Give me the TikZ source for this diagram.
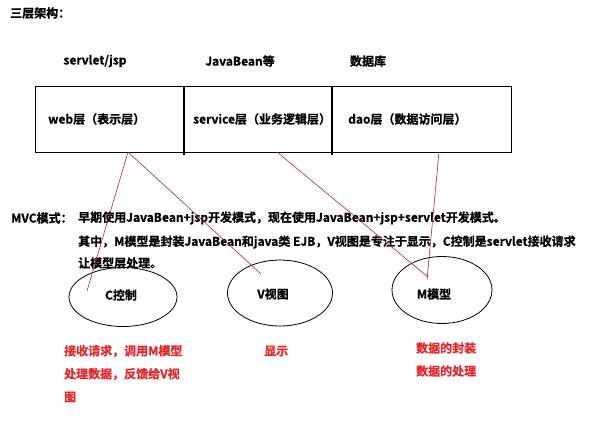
\documentclass[tikz,border=0pt]{standalone}
\usepackage{fontspec}
\setmainfont{Noto Sans CJK SC}[BoldFont={Noto Sans CJK SC Bold}, BoldFeatures={FakeBold=0.8}]
\usetikzlibrary{shapes.geometric}
\definecolor{linkred}{HTML}{B8243C}
\definecolor{notered}{HTML}{E8262A}
\tikzset{
  lbl/.style={font=\bfseries\fontsize{12}{14}\selectfont, inner sep=0pt, anchor=west},
  note/.style={lbl, text=notered},
  part/.style={ellipse, draw=black, line width=0.8pt},
  link/.style={draw=linkred, line width=0.6pt},
}
\begin{document}
\begin{tikzpicture}[x=1pt,y=-1pt]
\useasboundingbox (0,0) rectangle (594,423);
\fill[white] (0,0) rectangle (594,423);

% heading
\node[lbl] (title) at (10,13) {三层架构：};

% technologies above each tier
\node[lbl, anchor=center] (t1) at (95,61) {servlet/jsp};
\node[lbl, anchor=center] (t2) at (240,61) {JavaBean等};
\node[lbl, anchor=center] (t3) at (368,61) {数据库};

% the three tiers
\draw[line width=0.9pt] (35,86) rectangle (511,152);
\draw[line width=1.8pt] (184,86) -- (184,155);
\draw[line width=1.8pt] (332,86) -- (332,155);
\node[lbl] (web) at (48,119) {web层（表示层）};
\node[lbl] (svc) at (193,119) {service层（业务逻辑层）};
\node[lbl] (dao) at (348,119) {dao层（数据访问层）};
\coordinate (webb) at (128,152);
\coordinate (svcb) at (277,152);
\coordinate (daob) at (439,152);

% MVC description
\node[lbl] (mvc) at (11,218) {MVC模式：};
\node[lbl] (d1) at (78,218) {早期使用JavaBean+jsp开发模式，现在使用JavaBean+jsp+servlet开发模式。};
\node[lbl] (d2) at (78,242) {其中，M模型是封装JavaBean和java类 EJB，V视图是专注于显示，C控制是servlet接收请求};
\node[lbl] (d3) at (78,263) {让模型层处理。};

% MVC parts
\node[part, minimum width=108pt, minimum height=59pt] (C) at (123,297) {};
\node[part, minimum width=105pt, minimum height=66pt] (V) at (280,293) {};
\node[part, minimum width=100pt, minimum height=67pt] (M) at (442,290) {};
\node[lbl, anchor=center] (Ct) at (121,295) {C控制};
\node[lbl, anchor=center] (Vt) at (273,294) {V视图};
\node[lbl, anchor=center] (Mt) at (434,294) {M模型};

\coordinate (Cin) at (87,291);
\coordinate (Vin) at (261,274);
\coordinate (Min) at (428,277);
\coordinate (Min2) at (427,280);

% tier to part links
\draw[link] (webb) -- (Cin);
\draw[link] (webb) -- (Vin);
\draw[link] (svcb) -- (Min);
\draw[link] (daob) -- (Min2);

% notes
\node[note] (n1) at (64,351) {接收请求，调用M模型};
\node[note] (n2) at (64,374) {处理数据，反馈给V视};
\node[note] (n3) at (64,397) {图};
\node[note] (n4) at (264,351) {显示};
\node[note] (n5) at (416,348) {数据的封装};
\node[note] (n6) at (416,371) {数据的处理};
\end{tikzpicture}
\end{document}
